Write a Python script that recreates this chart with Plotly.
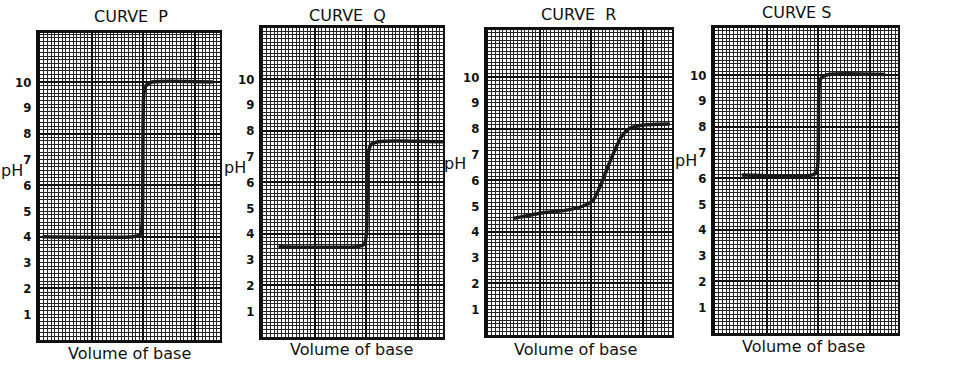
import plotly.graph_objects as go

# ---------------- data ----------------
titles = ["CURVE  P", "CURVE  Q", "CURVE  R", "CURVE S"]
x_title = "Volume of base"
y_title = "pH"
ph_ticks = [1, 2, 3, 4, 5, 6, 7, 8, 9, 10]
ph_tick_text = ["1", "2", "3", "4", "5", "6", "7", "8", "9", "10"]

# volume of base (grid units) and pH
p_vol = [0.1, 3.6, 3.88, 3.96, 4.02, 4.1, 4.35, 6.7]
p_ph = [4.0, 4.0, 4.08, 4.5, 9.5, 9.85, 10.0, 10.0]

q_vol = [0.6, 3.65, 3.93, 4.01, 4.08, 4.18, 4.45, 6.98]
q_ph = [3.5, 3.5, 3.6, 4.0, 7.1, 7.45, 7.57, 7.57]

r_vol = [0.98, 2.02, 3.05, 3.69, 4.08, 4.34, 4.6, 4.86, 5.18, 5.5, 6.02, 7.05]
r_ph = [4.52, 4.72, 4.84, 5.0, 5.23, 5.75, 6.4, 7.04, 7.69, 8.01, 8.14, 8.18]

s_vol = [1.04, 3.75, 3.93, 3.99, 4.04, 4.13, 4.4, 6.6]
s_ph = [6.12, 6.12, 6.22, 6.6, 9.6, 9.9, 10.02, 10.02]

curves = [(p_vol, p_ph), (q_vol, q_ph), (r_vol, r_ph), (s_vol, s_ph)]

# ---------------- layout geometry (pixels) ----------------
W, H = 973, 372
UNIT = 25.8  # pixels per grid unit
# left, right, top, bottom(pH 0)
boxes = [(40, 220, 33, 340), (263, 443, 28, 337), (488, 672, 30, 335), (715, 898, 28, 333)]
title_pos = [(131, 17), (347, 16), (578, 15), (796, 13)]
xlab_pos = [(129, 353), (351, 349), (575, 349), (803, 346)]
ylab_pos = [(12, 170), (235, 167), (455, 163), (686, 160)]


def fx(px):
    return px / W


def fy(py):
    return 1 - py / H


FONT = "DejaVu Sans"
fig = go.Figure()
layout = dict(
    width=W, height=H, margin=dict(l=0, r=0, t=0, b=0),
    paper_bgcolor="white", plot_bgcolor="white", showlegend=False,
)
annotations = []
MINOR = dict(tick0=0, dtick=2 / 14, showgrid=True, gridcolor="#262626", gridwidth=1)

for i, ((vx, vy), (L, R, T, B)) in enumerate(zip(curves, boxes)):
    n = i + 1
    xa = "xaxis" if n == 1 else f"xaxis{n}"
    ya = "yaxis" if n == 1 else f"yaxis{n}"
    gy_n = n + 4
    gya = f"yaxis{gy_n}"
    xr = (R - L) / UNIT
    yr = (B - T) / UNIT
    xdom = [fx(L), fx(R)]
    ydom = [fy(B), fy(T)]
    xref = "x" if n == 1 else f"x{n}"
    yref = "y" if n == 1 else f"y{n}"

    layout[xa] = dict(
        domain=xdom, range=[0, xr], anchor=yref,
        showticklabels=False, ticks="", zeroline=False,
        tick0=0, dtick=2, showgrid=True, gridcolor="#111", gridwidth=2,
        minor=MINOR,
        showline=True, linecolor="#111", linewidth=3, mirror=True,
    )
    layout[ya] = dict(
        domain=ydom, range=[0, yr], anchor=xref,
        tickmode="array", tickvals=ph_ticks, ticktext=ph_tick_text,
        ticks="", showgrid=False, zeroline=False, showticklabels=True,
        tickfont=dict(family="DejaVu Sans Condensed", size=13, color="#111", weight="bold"),
        ticklabelstandoff=2,
        showline=True, linecolor="#111", linewidth=4,
    )
    layout[gya] = dict(
        overlaying=yref, anchor=xref, domain=ydom, range=[0, yr],
        showticklabels=False, ticks="", zeroline=False,
        tick0=0, dtick=2, showgrid=True, gridcolor="#111", gridwidth=2,
        minor=MINOR,
        showline=True, linecolor="#111", linewidth=2, mirror=True,
    )

    # empty trace so the labelled base axis is drawn
    fig.add_trace(go.Scatter(x=[None], y=[None], mode="lines", xaxis=xref, yaxis=yref,
                             hoverinfo="skip"))
    fig.add_trace(go.Scatter(
        x=vx, y=vy, mode="lines", xaxis=xref, yaxis=f"y{gy_n}",
        line=dict(color="#1a1a1a", width=3.5, shape="spline", smoothing=0.6),
        hoverinfo="skip",
    ))

    tx, ty = title_pos[i]
    annotations.append(dict(text=titles[i], x=fx(tx), y=fy(ty), xref="paper", yref="paper",
                            showarrow=False, xanchor="center", yanchor="middle",
                            font=dict(family=FONT, size=16, color="#111")))
    lx, ly = xlab_pos[i]
    annotations.append(dict(text=x_title, x=fx(lx), y=fy(ly), xref="paper", yref="paper",
                            showarrow=False, xanchor="center", yanchor="middle",
                            font=dict(family=FONT, size=16, color="#111")))
    px_, py_ = ylab_pos[i]
    annotations.append(dict(text=y_title, x=fx(px_), y=fy(py_), xref="paper", yref="paper",
                            showarrow=False, xanchor="center", yanchor="middle",
                            font=dict(family=FONT, size=16, color="#111")))

layout["annotations"] = annotations
fig.update_layout(**layout)
fig.write_html("out.html", config={"displayModeBar": False},
               post_script="document.body.style.margin='0';")
